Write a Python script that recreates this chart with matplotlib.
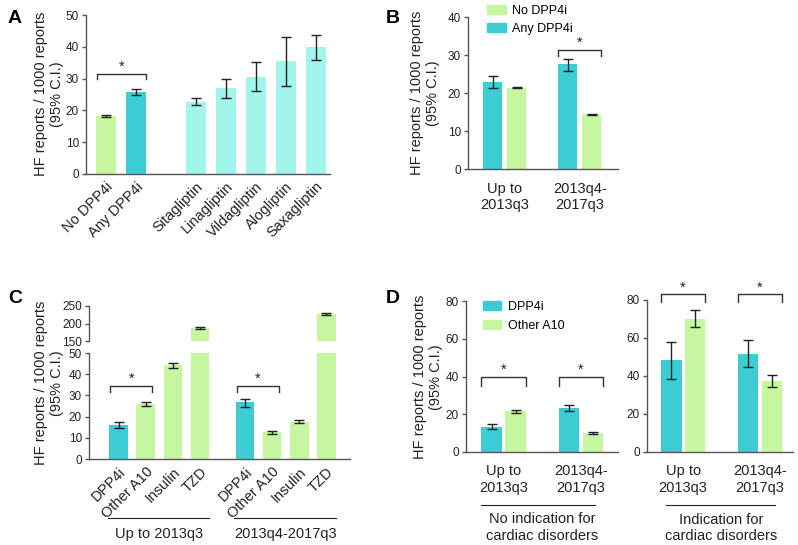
import matplotlib
matplotlib.use("Agg")
import matplotlib.pyplot as plt
import matplotlib.transforms as mtransforms
from matplotlib.patches import Patch

plt.rcParams["font.family"] = ["Liberation Sans", "DejaVu Sans"]

GREEN = "#c6f7a0"
TEAL = "#3ccdd4"
CYAN = "#a2f5ea"
AXIS = "#555555"
INK = "#222222"

# ---- panel A ----
a_labels = ["No DPP4i", "Any DPP4i", "Sitagliptin", "Linagliptin",
            "Vildagliptin", "Alogliptin", "Saxagliptin"]
a_pos = [0, 1, 3, 4, 5, 6, 7]
a_values = [18.2, 25.8, 22.7, 26.9, 30.6, 35.4, 39.8]
a_lo = [18.0, 24.8, 21.6, 23.8, 26.1, 27.6, 35.9]
a_hi = [18.4, 26.8, 23.9, 30.0, 35.1, 43.1, 43.7]

# ---- panel B ----
b_periods = ["Up to\n2013q3", "2013q4-\n2017q3"]
b_any = [23.0, 27.5]
b_any_lo = [21.3, 25.9]
b_any_hi = [24.6, 28.9]
b_no = [21.4, 14.4]
b_no_lo = [21.3, 14.3]
b_no_hi = [21.6, 14.6]

# ---- panel C ----
c_drugs = ["DPP4i", "Other A10", "Insulin", "TZD"]
c_groups = ["Up to 2013q3", "2013q4-2017q3"]
c_up = [16.2, 26.0, 44.2, 188]
c_up_lo = [14.4, 25.1, 42.9, 185]
c_up_hi = [17.6, 27.0, 45.4, 191]
c_late = [26.7, 12.6, 17.5, 228]
c_late_lo = [24.6, 12.0, 16.8, 225]
c_late_hi = [28.4, 13.2, 18.3, 231]

# ---- panel D ----
d_periods = ["Up to\n2013q3", "2013q4-\n2017q3"]
d_dpp_noind = [13.4, 23.3]
d_dpp_noind_lo = [12.0, 21.6]
d_dpp_noind_hi = [14.6, 24.8]
d_oth_noind = [21.6, 10.1]
d_oth_noind_lo = [20.8, 9.5]
d_oth_noind_hi = [22.5, 10.6]
d_dpp_ind = [48.2, 51.8]
d_dpp_ind_lo = [38.6, 44.6]
d_dpp_ind_hi = [58.0, 59.0]
d_oth_ind = [70.0, 37.5]
d_oth_ind_lo = [65.9, 34.2]
d_oth_ind_hi = [74.5, 40.7]

W, H = 798, 545
fig = plt.figure(figsize=(W / 100, H / 100), dpi=100)


def add_ax(l, t, r, b):
    return fig.add_axes([l / W, 1 - b / H, (r - l) / W, (b - t) / H])


def style(ax):
    for s in ["top", "right"]:
        ax.spines[s].set_visible(False)
    for s in ["left", "bottom"]:
        ax.spines[s].set_color(AXIS)
        ax.spines[s].set_linewidth(1.0)
    ax.tick_params(axis="y", length=3, width=1, color=AXIS, labelsize=8.5, pad=2, labelcolor=INK)
    ax.tick_params(axis="x", length=0, labelsize=10.5, labelcolor=INK)


def bars(ax, x, vals, lo, hi, color, width):
    ax.bar(x, vals, width=width, color=color, zorder=2)
    err = [[v - l for v, l in zip(vals, lo)], [h - v for v, h in zip(vals, hi)]]
    ax.errorbar(x, vals, yerr=err, fmt="none", ecolor=INK, elinewidth=1,
                capsize=3.5, capthick=1, zorder=3, clip_on=False)


def bracket(ax, x1, x2, y_low, y_top):
    ax.plot([x1, x1, x2, x2], [y_low, y_top, y_top, y_low], color="#333333",
            lw=1, clip_on=False, zorder=4)
    ax.annotate("*", ((x1 + x2) / 2, y_top), xytext=(0, 0), textcoords="offset points",
                ha="center", va="bottom", fontsize=10.5, color=INK, annotation_clip=False)


def ylab(ax, x_px, y_px):
    lab = ax.set_ylabel("HF reports / 1000 reports\n(95% C.I.)", fontsize=10.5,
                        color=INK, linespacing=1.1)
    lab.set_va("center")
    ax.yaxis.set_label_coords(x_px / W, 1 - y_px / H, transform=fig.transFigure)


# ===== A =====
axA = add_ax(86, 15, 330, 174)
style(axA)
wA = 0.667
colorsA = [GREEN, TEAL] + [CYAN] * 5
for i in range(len(a_pos)):
    bars(axA, [a_pos[i]], [a_values[i]], [a_lo[i]], [a_hi[i]], colorsA[i], wA)
axA.set_xlim(-0.667, 7.47)
axA.set_ylim(0, 50)
axA.set_yticks(range(0, 51, 10))
axA.set_xticks(a_pos)
axA.set_xticklabels(a_labels, rotation=45, ha="right", rotation_mode="anchor")
axA.tick_params(axis="x", pad=4)
ylab(axA, 49, 94)
bracket(axA, a_pos[0] - wA / 2 + 0.03, a_pos[1] + wA / 2, 30.0, 31.4)

# ===== B =====
axB = add_ax(468, 17, 618, 169)
style(axB)
wB, offB = 0.253, 0.157
xB = range(len(b_periods))
bars(axB, [x - offB for x in xB], b_any, b_any_lo, b_any_hi, TEAL, wB)
bars(axB, [x + offB for x in xB], b_no, b_no_lo, b_no_hi, GREEN, wB)
axB.set_xlim(-0.49, 1.51)
axB.set_ylim(0, 40)
axB.set_yticks(range(0, 41, 10))
axB.set_xticks(list(xB))
axB.set_xticklabels(b_periods, linespacing=1.25)
axB.tick_params(axis="x", pad=9)
ylab(axB, 425, 93)
bracket(axB, 1 - offB - wB / 2, 1 + offB + wB / 2, 29.7, 31.3)
axB.legend(handles=[Patch(color=GREEN, label="No DPP4i"), Patch(color=TEAL, label="Any DPP4i")],
           loc="upper left", bbox_to_anchor=(0.125, 1.08), frameon=False, fontsize=9,
           borderpad=0, borderaxespad=0, handlelength=1.5, handleheight=0.75,
           handletextpad=0.55, labelspacing=0.5)

# ===== C (broken axis) =====
axCt = add_ax(89, 306, 350, 341)
axCb = add_ax(89, 353, 350, 459)
for ax in (axCt, axCb):
    style(ax)
axCt.spines["bottom"].set_visible(False)
axCt.tick_params(axis="x", bottom=False, labelbottom=False)
wC = 0.68
c_pos = [[0, 1, 2, 3], [4.67, 5.67, 6.67, 7.67]]
c_cols = [TEAL, GREEN, GREEN, GREEN]
for g, (vals, lo, hi) in enumerate([(c_up, c_up_lo, c_up_hi), (c_late, c_late_lo, c_late_hi)]):
    for i in range(4):
        for ax in (axCt, axCb):
            ax.bar(c_pos[g][i], vals[i], width=wC, color=c_cols[i], zorder=2)
        axe = axCt if vals[i] > 50 else axCb
        axe.errorbar([c_pos[g][i]], [vals[i]], yerr=[[vals[i] - lo[i]], [hi[i] - vals[i]]],
                     fmt="none", ecolor=INK, elinewidth=1, capsize=3.5, capthick=1, zorder=3)
for ax in (axCt, axCb):
    ax.set_xlim(-1.09, 8.54)
axCt.set_ylim(150, 250)
axCt.set_yticks([150, 200, 250])
axCb.set_ylim(0, 50)
axCb.set_yticks(range(0, 51, 10))
axCb.set_xticks(c_pos[0] + c_pos[1])
axCb.set_xticklabels(c_drugs * 2, rotation=45, ha="right", rotation_mode="anchor")
axCb.tick_params(axis="x", pad=4)
ylab(axCb, 49, 383)
for g in range(2):
    bracket(axCb, c_pos[g][0] - wC / 2 + 0.03, c_pos[g][1] + wC / 2 - 0.1, 31.4, 34.6)
trC = mtransforms.blended_transform_factory(axCb.transData, axCb.transAxes)
for g in range(2):
    x1, x2 = c_pos[g][0] - 0.4, c_pos[g][-1] + 0.35
    axCb.plot([x1, x2], [-0.557, -0.557], transform=trC, color=INK, lw=0.8, clip_on=False)
    axCb.text((c_pos[g][0] + c_pos[g][-1]) / 2, -0.71, c_groups[g], transform=trC,
              ha="center", va="center", fontsize=10.5, color=INK)

# ===== D =====
axDl = add_ax(466, 301, 618, 452)
axDr = add_ax(647, 300, 793, 452)
wD, offD = 0.27, 0.156
xD = range(len(d_periods))
d_sets = [(axDl, d_dpp_noind, d_dpp_noind_lo, d_dpp_noind_hi, d_oth_noind, d_oth_noind_lo, d_oth_noind_hi),
          (axDr, d_dpp_ind, d_dpp_ind_lo, d_dpp_ind_hi, d_oth_ind, d_oth_ind_lo, d_oth_ind_hi)]
for ax, dv, dl, dh, ov, ol, oh in d_sets:
    style(ax)
    bars(ax, [x - offD for x in xD], dv, dl, dh, TEAL, wD)
    bars(ax, [x + offD for x in xD], ov, ol, oh, GREEN, wD)
    ax.set_ylim(0, 80)
    ax.set_yticks(range(0, 81, 20))
    ax.set_xticks(list(xD))
    ax.set_xticklabels(d_periods, linespacing=1.25)
    ax.tick_params(axis="x", pad=9)
axDl.set_xlim(-0.49, 1.48)
axDr.set_xlim(-0.47, 1.43)
ylab(axDl, 428, 377)
for x in xD:
    bracket(axDl, x - offD - wD / 2, x + offD + wD / 2, 35.2, 39.8)
    bracket(axDr, x - offD - wD / 2, x + offD + wD / 2, 79.0, 83.0)
axDl.legend(handles=[Patch(color=TEAL, label="DPP4i"), Patch(color=GREEN, label="Other A10")],
            loc="upper left", bbox_to_anchor=(0.11, 1.0), frameon=False, fontsize=9,
            borderpad=0, borderaxespad=0, handlelength=1.5, handleheight=0.75,
            handletextpad=0.55, labelspacing=0.55)
d_groups = ["No indication for\ncardiac disorders", "Indication for\ncardiac disorders"]
for ax, txt, span in [(axDl, d_groups[0], (-0.3, 1.18)), (axDr, d_groups[1], (-0.22, 1.19))]:
    tr = mtransforms.blended_transform_factory(ax.transData, ax.transAxes)
    ax.plot(list(span), [-0.35, -0.35], transform=tr, color=INK, lw=0.8, clip_on=False)
    ax.text(0.5, -0.40, txt, transform=tr, ha="center", va="top", fontsize=10.5,
            color=INK, linespacing=1.2)

# panel letters
for letter, x, y in [("A", 8, 10), ("B", 386, 10), ("C", 8, 290), ("D", 386, 290)]:
    fig.text(x / W, 1 - y / H, letter, fontsize=14, fontweight="bold", va="top", ha="left")

fig.savefig("out.png", dpi=100)
